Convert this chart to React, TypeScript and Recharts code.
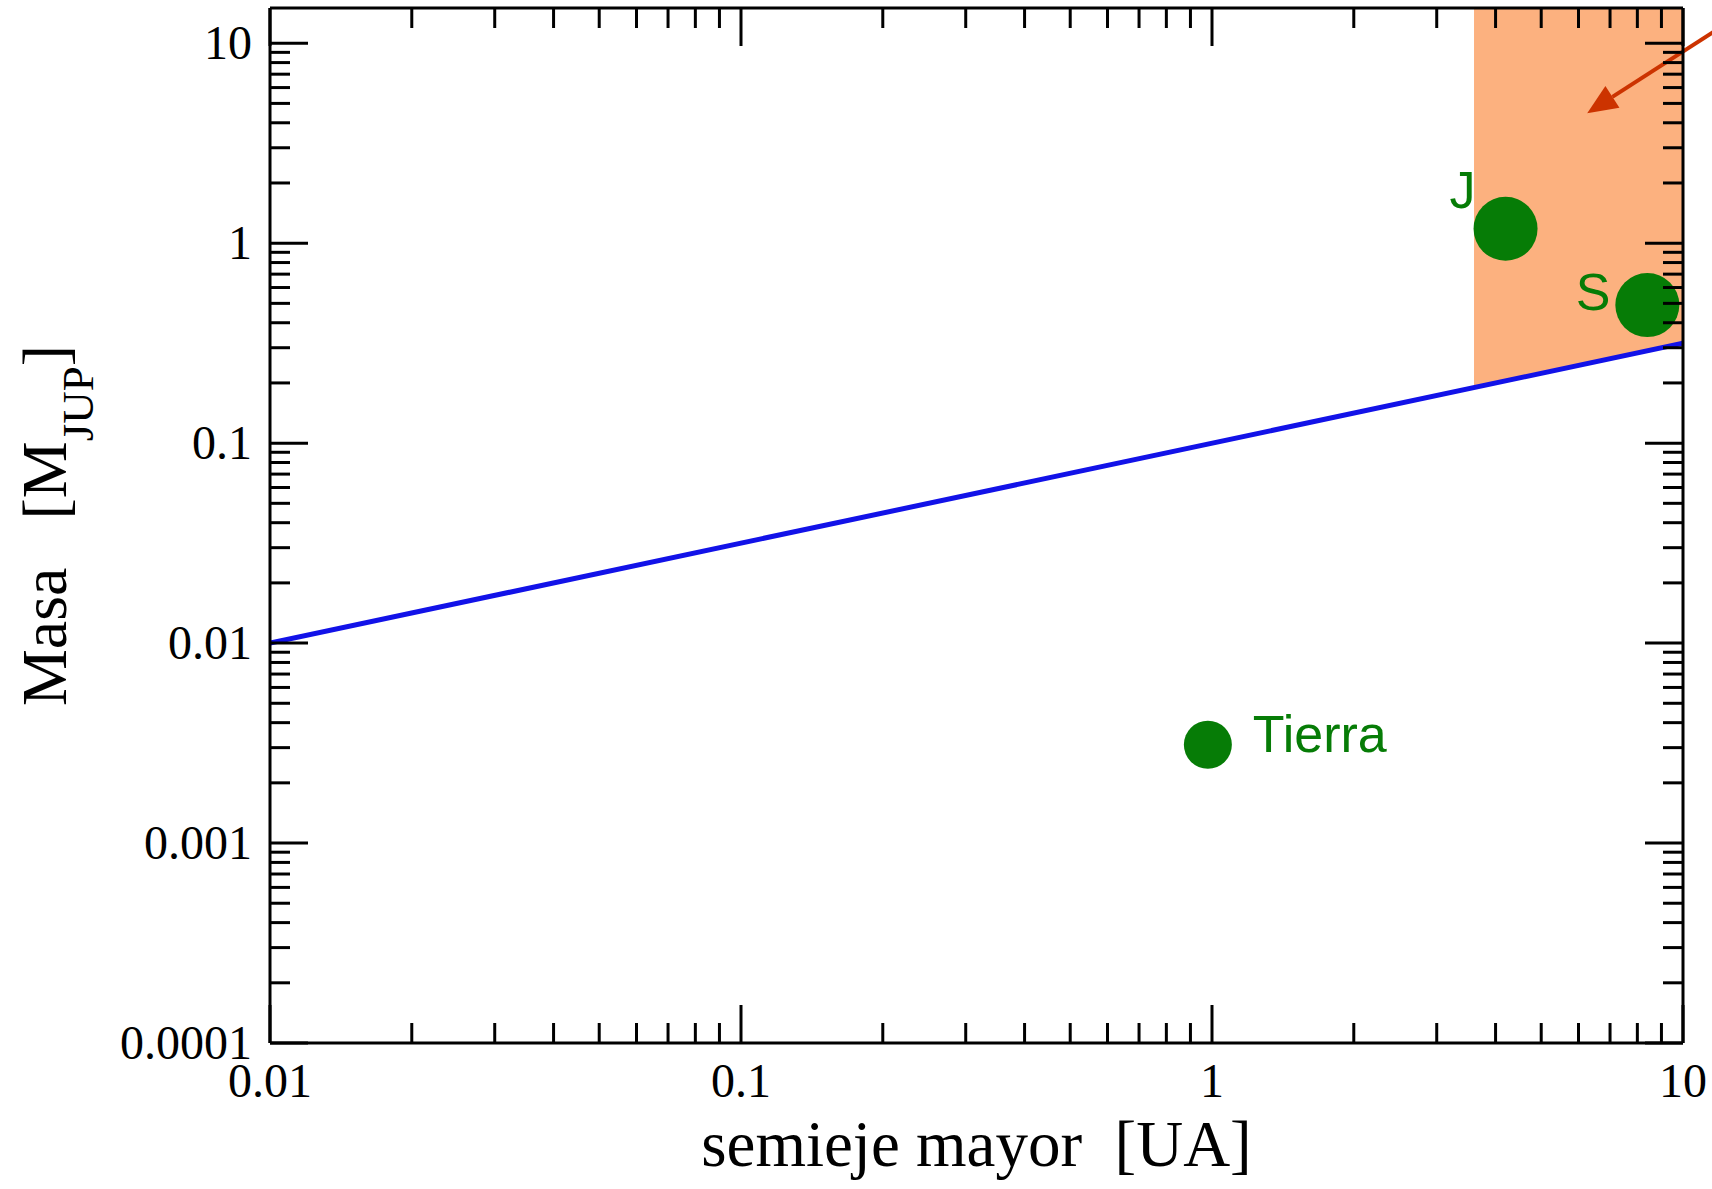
import React from "react";
import {
  ComposedChart,
  XAxis,
  YAxis,
  Line,
  Area,
  Scatter,
  ReferenceLine,
} from "recharts";

// log ticks, decades get a label
const xTicks = [
  0.01, 0.02, 0.03, 0.04, 0.05, 0.06, 0.07, 0.08, 0.09,
  0.1, 0.2, 0.3, 0.4, 0.5, 0.6, 0.7, 0.8, 0.9,
  1, 2, 3, 4, 5, 6, 7, 8, 9, 10,
];
const yTicks = [
  0.0001, 0.0002, 0.0003, 0.0004, 0.0005, 0.0006, 0.0007, 0.0008, 0.0009,
  0.001, 0.002, 0.003, 0.004, 0.005, 0.006, 0.007, 0.008, 0.009,
  0.01, 0.02, 0.03, 0.04, 0.05, 0.06, 0.07, 0.08, 0.09,
  0.1, 0.2, 0.3, 0.4, 0.5, 0.6, 0.7, 0.8, 0.9,
  1, 2, 3, 4, 5, 6, 7, 8, 9, 10,
];

// blue limit line (semieje mayor [UA] -> masa [M_JUP])
const limitLine = [
  { a: 0.01, m: 0.01 },
  { a: 10, m: 0.316 },
];

// shaded zone above the line
const zone = [
  { a: 3.6, low: 0.19, high: 15 },
  { a: 10, low: 0.316, high: 15 },
];

const planets = [
  { name: "Tierra", a: 0.98, m: 0.0031 },
  { name: "J", a: 4.2, m: 1.18 },
  { name: "S", a: 8.4, m: 0.49 },
];

const arrowSegment = [
  { a: 13, m: 13.5 },
  { a: 6.26, m: 4.47 },
];

const planetStyle: Record<string, { r: number; dx: number; dy: number; anchor: string }> = {
  Tierra: { r: 24, dx: 45, dy: 7, anchor: "start" },
  J: { r: 32, dx: -30, dy: -21, anchor: "end" },
  S: { r: 32, dx: -37, dy: 5, anchor: "end" },
};

const SERIF = '"Liberation Serif", "Times New Roman", serif';
const SANS = '"Liberation Sans", Arial, sans-serif';
const GREEN = "#067c06";

const isDecade = (v: number) => {
  const l = Math.log10(v);
  return Math.abs(l - Math.round(l)) < 1e-6;
};

function makeTick(side: "bottom" | "top" | "left" | "right") {
  return (props: any) => {
    const { x, y, payload } = props;
    const v = payload.value;
    const major = isDecade(v);
    const len = major ? 38 : 20;
    let x2 = x;
    let y2 = y;
    if (side === "bottom") y2 = y - len;
    else if (side === "top") y2 = y + len;
    else if (side === "left") x2 = x + len;
    else x2 = x - len;
    let label = null;
    if (major && side === "bottom") {
      label = (
        <text x={x} y={y + 54} textAnchor="middle" fontSize={48} fontFamily={SERIF} fill="#000" stroke="none">
          {String(v)}
        </text>
      );
    } else if (major && side === "left") {
      label = (
        <text x={x - 18} y={y + 16} textAnchor="end" fontSize={48} fontFamily={SERIF} fill="#000" stroke="none">
          {String(v)}
        </text>
      );
    }
    return (
      <g>
        <line x1={x} y1={y} x2={x2} y2={y2} stroke="#000" strokeWidth={3} />
        {label}
      </g>
    );
  };
}

const XTitle = (props: any) => {
  const vb = props.viewBox;
  return (
    <text
      x={vb.x + vb.width / 2}
      y={vb.y + 123}
      textAnchor="middle"
      fontSize={65}
      fontFamily={SERIF}
      fill="#000"
      style={{ whiteSpace: "pre" }}
    >
      {"semieje mayor  [UA]"}
    </text>
  );
};

const YTitle = (props: any) => {
  const vb = props.viewBox;
  const cx = vb.x + 66;
  const cy = vb.y + vb.height / 2;
  return (
    <text
      x={cx}
      y={cy}
      transform={`rotate(-90 ${cx} ${cy})`}
      textAnchor="middle"
      fontSize={64}
      fontFamily={SERIF}
      fill="#000"
      style={{ whiteSpace: "pre" }}
    >
      {"Masa   [M"}
      <tspan fontSize={45} dy={27}>JUP</tspan>
      <tspan dy={-27}>]</tspan>
    </text>
  );
};

const PlanetShape = (props: any) => {
  const { cx, cy, payload } = props;
  const st = planetStyle[payload.name];
  return (
    <g>
      <circle cx={cx} cy={cy} r={st.r} fill={GREEN} />
      <text
        x={cx + st.dx}
        y={cy + st.dy}
        textAnchor={st.anchor as any}
        fontSize={52}
        fontFamily={SANS}
        fill={GREEN}
      >
        {payload.name}
      </text>
    </g>
  );
};

const ArrowShape = (props: any) => {
  const { x1, y1, x2, y2 } = props;
  const dx = x2 - x1;
  const dy = y2 - y1;
  const d = Math.sqrt(dx * dx + dy * dy) || 1;
  const ux = dx / d;
  const uy = dy / d;
  const headLen = 30;
  const half = 13;
  const bx = x2 - ux * headLen;
  const by = y2 - uy * headLen;
  const pts = `${x2},${y2} ${bx - uy * half},${by + ux * half} ${bx + uy * half},${by - ux * half}`;
  return (
    <g>
      <line x1={x1} y1={y1} x2={bx} y2={by} stroke="#cc3300" strokeWidth={4} />
      <polygon points={pts} fill="#cc3300" />
    </g>
  );
};

export default function App() {
  return (
    <div style={{ position: "absolute", left: 0, top: 0, background: "#fff" }}>
      <ComposedChart
        width={1712}
        height={1189}
        margin={{ top: 0, right: 0, bottom: 0, left: 0 }}
      >
        <XAxis
          dataKey="a"
          type="number"
          scale="log"
          domain={[0.01, 10]}
          allowDataOverflow
          ticks={xTicks}
          interval={0}
          height={146}
          tickSize={0}
          tickMargin={0}
          tickLine={false}
          axisLine={{ stroke: "#000", strokeWidth: 3 }}
          tick={makeTick("bottom")}
          label={<XTitle />}
        />
        <XAxis
          xAxisId="top"
          orientation="top"
          dataKey="a"
          type="number"
          scale="log"
          domain={[0.01, 10]}
          allowDataOverflow
          ticks={xTicks}
          interval={0}
          height={8}
          tickSize={0}
          tickMargin={0}
          tickLine={false}
          axisLine={{ stroke: "#000", strokeWidth: 3 }}
          tick={makeTick("top")}
        />
        <YAxis
          type="number"
          scale="log"
          domain={[0.0001, 15]}
          allowDataOverflow
          ticks={yTicks}
          interval={0}
          width={270}
          tickSize={0}
          tickMargin={0}
          tickLine={false}
          axisLine={{ stroke: "#000", strokeWidth: 3 }}
          tick={makeTick("left")}
          label={<YTitle />}
        />
        <YAxis
          yAxisId="right"
          orientation="right"
          type="number"
          scale="log"
          domain={[0.0001, 15]}
          allowDataOverflow
          ticks={yTicks}
          interval={0}
          width={29}
          tickSize={0}
          tickMargin={0}
          tickLine={false}
          axisLine={{ stroke: "#000", strokeWidth: 3 }}
          tick={makeTick("right")}
        />
        <Area
          data={zone}
          dataKey={(d: any) => [d.low, d.high]}
          type="linear"
          stroke="none"
          fill="#f96300"
          fillOpacity={0.5}
          isAnimationActive={false}
        />
        <Line
          data={limitLine}
          dataKey="m"
          type="linear"
          stroke="#1212e8"
          strokeWidth={5}
          dot={false}
          isAnimationActive={false}
        />
        <Scatter
          data={planets}
          dataKey="m"
          shape={PlanetShape}
          isAnimationActive={false}
        />
        <ReferenceLine
          segment={arrowSegment.map((p) => ({ x: p.a, y: p.m }))}
          ifOverflow="visible"
          shape={ArrowShape}
        />
      </ComposedChart>
    </div>
  );
}
